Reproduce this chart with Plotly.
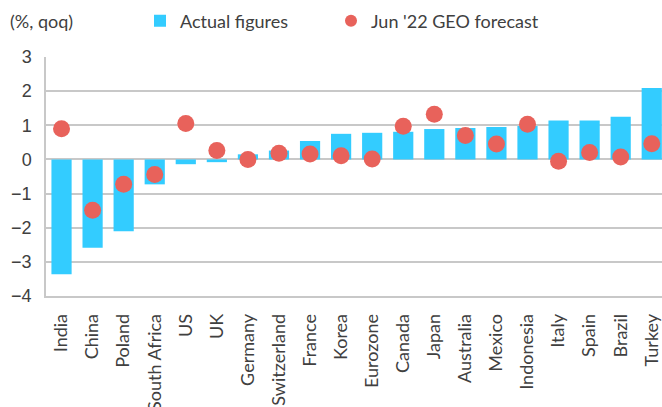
import plotly.graph_objects as go

categories = ["India", "China", "Poland", "South Africa", "US", "UK", "Germany",
              "Switzerland", "France", "Korea", "Eurozone", "Canada", "Japan",
              "Australia", "Mexico", "Indonesia", "Italy", "Spain", "Brazil", "Turkey"]
actual = [-3.36, -2.59, -2.10, -0.73, -0.14, -0.08, 0.15, 0.26, 0.54, 0.75, 0.78,
          0.81, 0.89, 0.92, 0.95, 0.98, 1.14, 1.14, 1.25, 2.09]
forecast = [0.90, -1.49, -0.73, -0.44, 1.05, 0.26, 0.0, 0.18, 0.16, 0.11, 0.01,
            0.97, 1.32, 0.70, 0.45, 1.03, -0.05, 0.20, 0.07, 0.46]
y_ticks = [-4, -3, -2, -1, 0, 1, 2, 3]

TEXT = "#404040"
FONT = "Lato"
PL, PT, PW, PH = 46, 57, 616, 239
leg_y = 1 + (PT - 21) / PH

fig = go.Figure()
fig.add_trace(go.Bar(x=categories, y=actual, name="Actual figures", legend="legend",
                     marker=dict(color="#33CCFF", line=dict(width=0)), width=0.65))
fig.add_trace(go.Scatter(x=categories, y=forecast, name="Jun '22 GEO forecast",
                         legend="legend2", mode="markers",
                         marker=dict(color="#E8625B", size=17)))

legend_common = dict(orientation="h", xanchor="left", yanchor="middle", y=leg_y,
                     font=dict(family=FONT, size=18, color=TEXT),
                     itemsizing="constant", bgcolor="rgba(0,0,0,0)")

fig.update_layout(
    width=662, height=407,
    margin=dict(l=PL, r=0, t=PT, b=407 - PT - PH, autoexpand=False),
    plot_bgcolor="white", paper_bgcolor="white",
    font=dict(family=FONT, size=18, color=TEXT),
    showlegend=True,
    legend=dict(x=(140 - PL) / PW, **legend_common),
    legend2=dict(x=(331 - PL) / PW, **legend_common),
    annotations=[dict(text="(%, qoq)", xref="paper", yref="paper",
                      x=(8 - PL) / PW, xanchor="left",
                      y=leg_y, yanchor="middle", showarrow=False,
                      font=dict(family=FONT, size=18, color=TEXT))],
)
fig.update_xaxes(range=[-0.5, 19.33], showgrid=False, tickangle=-90, automargin=False,
                 tickfont=dict(family=FONT, size=18, color=TEXT),
                 showline=True, linecolor="#c8c8c8", linewidth=1.5,
                 ticks="outside", ticklen=9, tickcolor="rgba(0,0,0,0)")
fig.update_yaxes(range=[-4, 3], tickvals=y_ticks, showgrid=True, gridcolor="#c8c8c8",
                 gridwidth=1.5, zeroline=True, zerolinecolor="#c8c8c8", zerolinewidth=1.5,
                 showline=True, linecolor="#c8c8c8", linewidth=1.5, automargin=False,
                 tickfont=dict(family="Liberation Sans", size=18, color=TEXT),
                 ticks="outside", ticklen=9, tickcolor="rgba(0,0,0,0)")

fig.write_html("out.html", config={"displayModeBar": False},
               post_script="document.body.style.margin='0px';")
